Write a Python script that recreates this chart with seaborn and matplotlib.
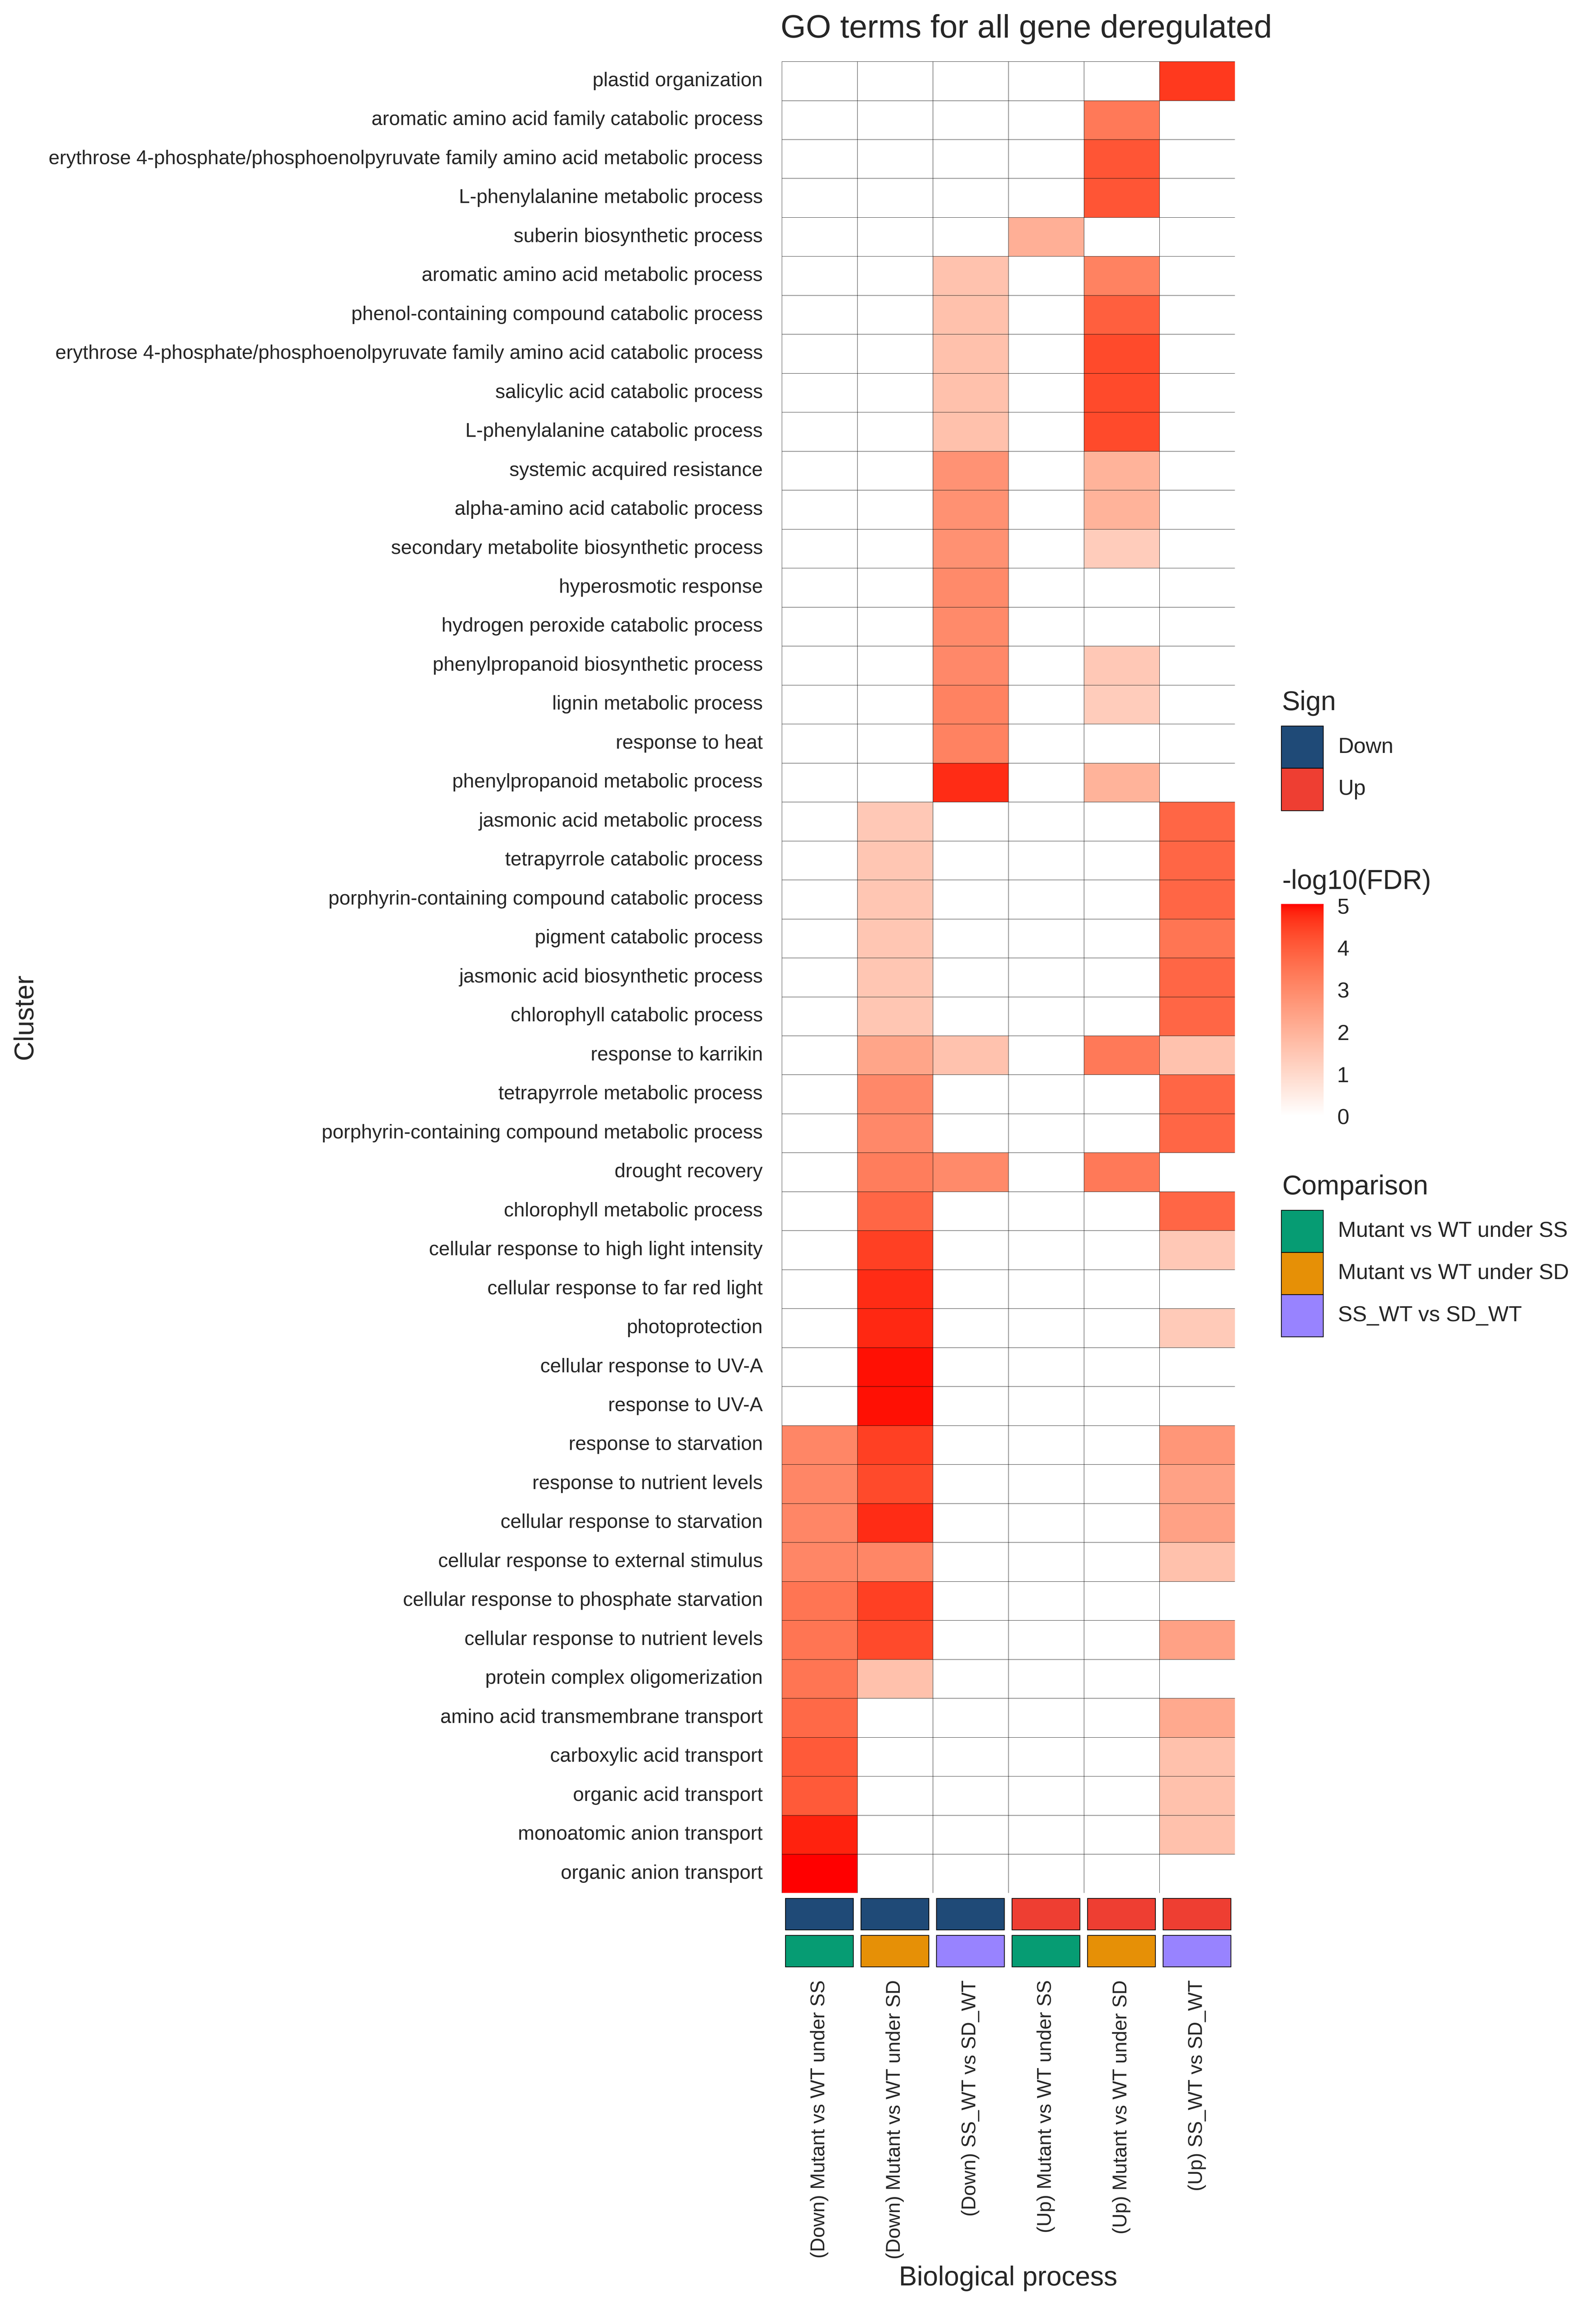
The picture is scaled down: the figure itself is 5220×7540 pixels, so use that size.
import numpy as np
import pandas as pd
import matplotlib
matplotlib.use("Agg")
import matplotlib.pyplot as plt
from matplotlib.colors import ListedColormap
from matplotlib.patches import Rectangle
import seaborn as sns

# GO terms (top to bottom)
terms = [
    "plastid organization",
    "aromatic amino acid family catabolic process",
    "erythrose 4-phosphate/phosphoenolpyruvate family amino acid metabolic process",
    "L-phenylalanine metabolic process",
    "suberin biosynthetic process",
    "aromatic amino acid metabolic process",
    "phenol-containing compound catabolic process",
    "erythrose 4-phosphate/phosphoenolpyruvate family amino acid catabolic process",
    "salicylic acid catabolic process",
    "L-phenylalanine catabolic process",
    "systemic acquired resistance",
    "alpha-amino acid catabolic process",
    "secondary metabolite biosynthetic process",
    "hyperosmotic response",
    "hydrogen peroxide catabolic process",
    "phenylpropanoid biosynthetic process",
    "lignin metabolic process",
    "response to heat",
    "phenylpropanoid metabolic process",
    "jasmonic acid metabolic process",
    "tetrapyrrole catabolic process",
    "porphyrin-containing compound catabolic process",
    "pigment catabolic process",
    "jasmonic acid biosynthetic process",
    "chlorophyll catabolic process",
    "response to karrikin",
    "tetrapyrrole metabolic process",
    "porphyrin-containing compound metabolic process",
    "drought recovery",
    "chlorophyll metabolic process",
    "cellular response to high light intensity",
    "cellular response to far red light",
    "photoprotection",
    "cellular response to UV-A",
    "response to UV-A",
    "response to starvation",
    "response to nutrient levels",
    "cellular response to starvation",
    "cellular response to external stimulus",
    "cellular response to phosphate starvation",
    "cellular response to nutrient levels",
    "protein complex oligomerization",
    "amino acid transmembrane transport",
    "carboxylic acid transport",
    "organic acid transport",
    "monoatomic anion transport",
    "organic anion transport",
]

columns = [
    "(Down) Mutant vs WT under SS",
    "(Down) Mutant vs WT under SD",
    "(Down) SS_WT vs SD_WT",
    "(Up) Mutant vs WT under SS",
    "(Up) Mutant vs WT under SD",
    "(Up) SS_WT vs SD_WT",
]
sign = ["Down", "Down", "Down", "Up", "Up", "Up"]
comparison = ["Mutant vs WT under SS", "Mutant vs WT under SD", "SS_WT vs SD_WT",
              "Mutant vs WT under SS", "Mutant vs WT under SD", "SS_WT vs SD_WT"]

# -log10(FDR), one list per column, rows in the order of `terms`
down_mut_ss = [0, 0, 0, 0, 0, 0, 0, 0, 0, 0,
               0, 0, 0, 0, 0, 0, 0, 0, 0, 0,
               0, 0, 0, 0, 0, 0, 0, 0, 0, 0,
               0, 0, 0, 0, 0, 3.1, 3.1, 3.1, 3.1, 3.5,
               3.5, 3.5, 3.75, 4.05, 4.05, 4.85, 5.04]
down_mut_sd = [0, 0, 0, 0, 0, 0, 0, 0, 0, 0,
               0, 0, 0, 0, 0, 0, 0, 0, 0, 1.45,
               1.5, 1.5, 1.5, 1.5, 1.5, 2.35, 3.05, 3.05, 3.3, 3.8,
               4.5, 4.75, 4.8, 4.97, 4.97, 4.5, 4.35, 4.75, 3.1, 4.5,
               4.35, 1.65, 0, 0, 0, 0, 0]
down_ss_sd = [0, 0, 0, 0, 0, 1.6, 1.65, 1.65, 1.65, 1.65,
              2.8, 2.85, 2.85, 3.0, 3.0, 3.05, 3.2, 3.2, 4.75, 0,
              0, 0, 0, 0, 0, 1.6, 0, 0, 3.0, 0,
              0, 0, 0, 0, 0, 0, 0, 0, 0, 0,
              0, 0, 0, 0, 0, 0, 0]
up_mut_ss = [0, 0, 0, 0, 2.1, 0, 0, 0, 0, 0,
             0, 0, 0, 0, 0, 0, 0, 0, 0, 0,
             0, 0, 0, 0, 0, 0, 0, 0, 0, 0,
             0, 0, 0, 0, 0, 0, 0, 0, 0, 0,
             0, 0, 0, 0, 0, 0, 0]
up_mut_sd = [0, 3.4, 4.15, 4.15, 0, 3.2, 3.95, 4.35, 4.35, 4.35,
             2.0, 2.0, 1.35, 0, 0, 1.45, 1.35, 0, 2.0, 0,
             0, 0, 0, 0, 0, 3.4, 0, 0, 3.4, 0,
             0, 0, 0, 0, 0, 0, 0, 0, 0, 0,
             0, 0, 0, 0, 0, 0, 0]
up_ss_sd = [4.6, 0, 0, 0, 0, 0, 0, 0, 0, 0,
            0, 0, 0, 0, 0, 0, 0, 0, 0, 3.8,
            3.8, 3.8, 3.5, 3.8, 3.8, 1.6, 3.8, 3.8, 0, 3.8,
            1.45, 0, 1.4, 0, 0, 2.7, 2.45, 2.45, 1.65, 0,
            2.45, 0, 2.25, 1.65, 1.65, 1.65, 0]

sign_colors = {"Down": "#1F4A77", "Up": "#EE3E32"}
comp_colors = {"Mutant vs WT under SS": "#069C73",
               "Mutant vs WT under SD": "#E69006",
               "SS_WT vs SD_WT": "#9883FF"}

df = pd.DataFrame(np.column_stack([down_mut_ss, down_mut_sd, down_ss_sd,
                                   up_mut_ss, up_mut_sd, up_ss_sd]),
                  index=terms, columns=columns)


# white -> red gradient interpolated in Lab space (like ggplot)
def lab_to_rgb(L, a, b):
    fy = (L + 16) / 116
    fx = fy + a / 500
    fz = fy - b / 200

    def finv(t):
        return np.where(t ** 3 > 0.008856, t ** 3, (t - 16 / 116) / 7.787)

    xyz = np.vstack([0.95047 * finv(fx), finv(fy), 1.08883 * finv(fz)])
    m = np.array([[3.2406, -1.5372, -0.4986],
                  [-0.9689, 1.8758, 0.0415],
                  [0.0557, -0.2040, 1.0570]])
    lin = np.clip(m @ xyz, 0, 1)
    srgb = np.where(lin <= 0.0031308, 12.92 * lin, 1.055 * lin ** (1 / 2.4) - 0.055)
    return np.clip(srgb.T, 0, 1)


t = np.linspace(0, 1, 256)
cmap = ListedColormap(lab_to_rgb(100 - 46.76 * t, 80.09 * t, 67.20 * t))

sns.set_style("white")
plt.rcParams["font.family"] = ["Liberation Sans", "DejaVu Sans"]

# layout measured on a 5400 x 7800 grid
W, H = 5400, 7800
fig = plt.figure(figsize=(9, 13))


def box(x0, y0, x1, y1):
    # pixel coords (top-left origin) -> figure fraction rect
    return [x0 / W, 1 - y1 / H, (x1 - x0) / W, (y1 - y0) / H]


ax = fig.add_axes(box(2645, 208, 4178, 6406))
cax = fig.add_axes(box(4334, 3059, 4478, 3778))

sns.heatmap(df, ax=ax, cmap=cmap, vmin=0, vmax=df.values.max(),
            linewidths=0.1, linecolor="black", cbar_ax=cax)
ax.set_xticks([])
ax.set_xlabel("")
ax.set_ylabel("")
ax.set_yticks(np.arange(len(terms)) + 0.5)
ax.set_yticklabels(terms, rotation=0, fontsize=8)
ax.tick_params(axis="y", length=0, pad=7.7)

cb = ax.collections[0].colorbar
cb.outline.set_visible(False)
cb.set_ticks([0, 1, 2, 3, 4, 5])
cax.yaxis.set_ticks_position("both")
cax.tick_params(axis="y", direction="in", length=3.4, width=0.6, color="white",
                labelsize=8.8, pad=5.5, labelleft=False, labelright=True)

# annotation strips (Sign, Comparison)
ann = fig.add_axes(box(2645, 6415, 4178, 6665))
ann.set_xlim(0, len(columns))
ann.set_ylim(2, 0)
for i in range(len(columns)):
    ann.add_patch(Rectangle((i + 0.05, 0.075), 0.9, 0.85, facecolor=sign_colors[sign[i]],
                            edgecolor="black", linewidth=0.3))
    ann.add_patch(Rectangle((i + 0.05, 1.075), 0.9, 0.85, facecolor=comp_colors[comparison[i]],
                            edgecolor="black", linewidth=0.3))
for s in ann.spines.values():
    s.set_visible(False)
ann.set_yticks([])
ann.set_xticks(np.arange(len(columns)) + 0.5)
ann.set_xticklabels(columns, rotation=90, fontsize=8)
ann.tick_params(axis="x", length=0, pad=4.2)

# titles
fig.text(3472 / W, 1 - 127 / H, "GO terms for all gene deregulated", fontsize=13.2,
         ha="center", va="baseline")
fig.text(3411 / W, 1 - 7734 / H, "Biological process", fontsize=11,
         ha="center", va="baseline")
fig.text(85 / W, 1 - 3440 / H, "Cluster", fontsize=11, rotation=90,
         ha="center", va="center")

# legends
lx0, lx1, tx = 4335, 4477, 4527


def legend_block(title, title_y, labels, colors, y0):
    fig.text(4338 / W, 1 - title_y / H, title, fontsize=11, ha="left", va="baseline")
    for k, (lab, col) in enumerate(zip(labels, colors)):
        ya = y0 + k * 143
        fig.patches.append(Rectangle((lx0 / W, 1 - (ya + 143) / H), (lx1 - lx0) / W, 143 / H,
                                     transform=fig.transFigure, figure=fig,
                                     facecolor=col, edgecolor="black", linewidth=0.3))
        fig.text(tx / W, 1 - (ya + 71.5) / H, lab, fontsize=8.8, ha="left", va="center")


legend_block("Sign", 2403, list(sign_colors), list(sign_colors.values()), 2457)
fig.text(4338 / W, 1 - 3008 / H, "-log10(FDR)", fontsize=11, ha="left", va="baseline")
legend_block("Comparison", 4042, list(comp_colors), list(comp_colors.values()), 4095)

# 580 dpi keeps the picture just under the 40 Mpx reader limit
fig.savefig("out.png", dpi=580, facecolor="white")
